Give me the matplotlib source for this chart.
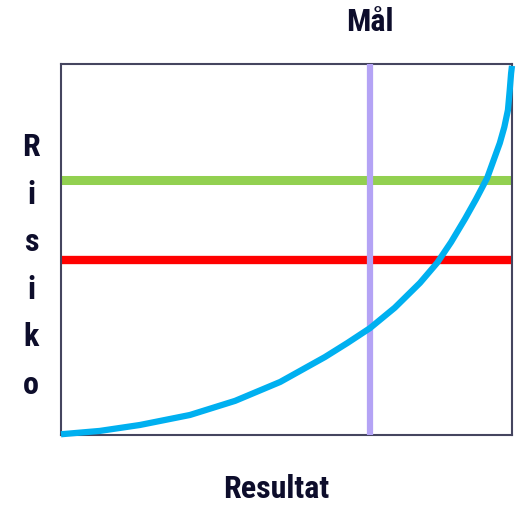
import matplotlib
matplotlib.use("Agg")
import matplotlib.pyplot as plt
from matplotlib import font_manager

# Data (in arbitrary 0-100 units)
curve_x = [0, 8.6, 17.5, 28.6, 38.6, 48.6, 58.5, 63.5, 68.5, 74, 79.6, 83.4, 86.5, 89.6, 92, 94.5, 97.3, 98.3, 99.1, 99.5, 99.8, 100]
curve_y = [0.2, 1.1, 2.7, 5.4, 9.2, 14.3, 21.0, 24.8, 28.8, 34.3, 41.0, 46.4, 52.0, 58.3, 63.5, 69.3, 78.7, 83.0, 87.6, 93.0, 97.5, 99.5]
green_level = 68.7
red_level = 47.2
goal_x = 68.5

title_text = "Mål"
xlabel_text = "Resultat"
ylabel_text = "Risiko"

names = {f.name for f in font_manager.fontManager.ttflist}
fam = [n for n in ["Liberation Sans Narrow", "Roboto Condensed", "Roboto", "DejaVu Sans"] if n in names]
plt.rcParams['font.family'] = fam

text_color = "#0d0d2b"

fig = plt.figure(figsize=(5.19, 5.05), dpi=100)
ax = fig.add_axes([61/519, 1 - 435/505, 451/519, 371/505])
ax.set_xlim(0, 100)
ax.set_ylim(0, 100)

ax.axhline(green_level, color="#92D050", lw=6.5, solid_capstyle="butt", zorder=2)
ax.axhline(red_level, color="#FF0000", lw=6, solid_capstyle="butt", zorder=2)
ax.axvline(goal_x, color="#B4A3F5", lw=4.5, solid_capstyle="butt", zorder=3)
ax.plot(curve_x, curve_y, color="#00B0F0", lw=4.5, solid_capstyle="butt",
        solid_joinstyle="round", clip_on=False, zorder=4)

for s in ax.spines.values():
    s.set_color("#45455f")
    s.set_linewidth(1.5)
ax.set_xticks([])
ax.set_yticks([])

fs = 23
fig.text(370/519, 1 - 22/505, title_text, ha="center", va="center", fontsize=fs,
         fontweight="bold", color=text_color)
fig.text(276/519, 1 - 489/505, xlabel_text, ha="center", va="center", fontsize=fs,
         fontweight="bold", color=text_color)
ys = [147, 195, 242, 290, 337, 385]
for ch, y in zip(ylabel_text, ys):
    fig.text(31/519, 1 - y/505, ch, ha="center", va="center", fontsize=fs,
             fontweight="bold", color=text_color)

fig.savefig("out.png", dpi=100)
